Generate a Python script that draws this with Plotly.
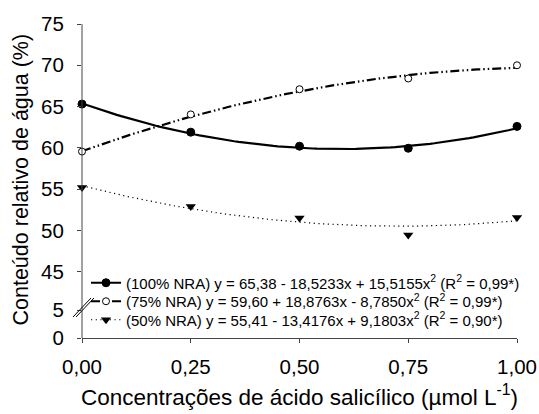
import numpy as np
import plotly.graph_objects as go

# Data
x_conc = [0.0, 0.25, 0.50, 0.75, 1.00]
y_100 = [65.3, 61.9, 60.2, 59.95, 62.6]
y_75 = [59.55, 64.05, 67.1, 68.4, 70.0]
y_50 = [55.2, 52.9, 51.5, 49.45, 51.55]

# Regression coefficients shown in the legend (a + b x + c x^2)
coef_100 = [65.38, -18.5233, 15.5155]
coef_75 = [59.60, 18.8763, -8.7850]
coef_50 = [55.41, -13.4176, 9.1803]

names = [
    "(100% NRA) y = 65,38 - 18,5233x + 15,5155x<sup>2</sup> (R<sup>2</sup> = 0,99*)",
    "(75% NRA) y = 59,60 + 18,8763x - 8,7850x<sup>2</sup> (R<sup>2</sup> = 0,99*)",
    "(50% NRA) y = 55,41 - 13,4176x + 9,1803x<sup>2</sup> (R<sup>2</sup> = 0,90*)",
]

x_ticks = [0, 0.25, 0.5, 0.75, 1.0]
x_ticktext = ["0,00", "0,25", "0,50", "0,75", "1,00"]
y_upper_ticks = [45, 50, 55, 60, 65, 70, 75]
y_lower_ticks = [0, 5]

FONT = "Liberation Sans, Arial, sans-serif"
BLACK = "#000000"

xf = np.linspace(0, 1, 101)

def fit(c):
    return c[0] + c[1] * xf + c[2] * xf ** 2

styles = [
    dict(line=dict(color=BLACK, width=2.2, dash="solid"),
         marker=dict(symbol="circle", size=8, color=BLACK, line=dict(color=BLACK, width=1))),
    dict(line=dict(color=BLACK, width=2.2, dash="9px,3px,1.5px,3px,1.5px,3px"),
         marker=dict(symbol="circle", size=7, color="white", line=dict(color=BLACK, width=1))),
    dict(line=dict(color=BLACK, width=1.2, dash="1.2px,3.5px"),
         marker=dict(symbol="triangle-down", size=9, color=BLACK, line=dict(color=BLACK, width=0))),
]
series = [(y_100, coef_100), (y_75, coef_75), (y_50, coef_50)]
legend_ids = ["legend", "legend2", "legend3"]

fig = go.Figure()
# empty trace so that the lower (0-5) axis segment is drawn
fig.add_trace(go.Scatter(x=[None], y=[None], mode="markers", showlegend=False,
                         xaxis="x", yaxis="y", hoverinfo="skip"))
for (ys, c), st, nm, lg in zip(series, styles, names, legend_ids):
    fig.add_trace(go.Scatter(x=xf, y=fit(c), mode="lines", line=st["line"],
                             showlegend=False, xaxis="x", yaxis="y2", hoverinfo="skip"))
    fig.add_trace(go.Scatter(x=x_conc, y=ys, mode="markers", marker=st["marker"],
                             showlegend=False, xaxis="x", yaxis="y2", cliponaxis=False))
    fig.add_trace(go.Scatter(x=[None], y=[None], mode="lines+markers", line=st["line"],
                             marker=st["marker"], name=nm, xaxis="x", yaxis="y2",
                             legend=lg))

# pixel geometry of plot area
L, R, T, B = 82, 517, 24, 338
W, H = R - L, B - T
def py(p):
    return (B - p) / H
def px(p):
    return (p - L) / W

lower_top = py(310)
upper_bot = py(271.7)

tickfont = dict(family=FONT, size=20.5, color=BLACK)

def legend_at(row_y):
    return dict(x=px(86), y=py(row_y), xanchor="left", yanchor="middle",
                bgcolor="rgba(0,0,0,0)", font=dict(family=FONT, size=15, color=BLACK),
                itemwidth=30)

fig.update_layout(
    width=539, height=414,
    margin=dict(l=L, r=539 - R, t=T, b=414 - B, autoexpand=False),
    paper_bgcolor="white", plot_bgcolor="white",
    font=dict(family=FONT, color=BLACK),
    xaxis=dict(range=[0, 1], tickvals=x_ticks, ticktext=x_ticktext, anchor="y",
               showline=True, linecolor="#444", linewidth=1, showgrid=False, zeroline=False,
               ticks="outside", ticklen=4, tickcolor="#444", tickfont=tickfont,
               automargin=False, ticklabelstandoff=6,
               title=dict(text="Concentrações de ácido salicílico (µmol L<sup>-1</sup>)",
                          font=dict(family=FONT, size=22.5, color=BLACK), standoff=12)),
    yaxis=dict(domain=[0, lower_top], range=[0, 5], tickvals=y_lower_ticks, anchor="x",
               showgrid=False, zeroline=False, showline=False, automargin=False,
               ticks="outside", ticklen=4, tickcolor="#444", tickfont=tickfont,
               ticklabelstandoff=9),
    yaxis2=dict(domain=[upper_bot, 1], range=[45, 75], tickvals=y_upper_ticks, anchor="x",
                showgrid=False, zeroline=False, showline=False, automargin=False,
                ticks="outside", ticklen=4, tickcolor="#444", tickfont=tickfont,
                ticklabelstandoff=9),
    legend=legend_at(283),
    legend2=legend_at(301.5),
    legend3=legend_at(320),
    annotations=[dict(text="Conteúdo relativo de água (%)", xref="paper", yref="paper",
                      x=px(20.5), y=py(180), textangle=-90, showarrow=False,
                      font=dict(family=FONT, size=21.5, color=BLACK),
                      xanchor="center", yanchor="middle")],
    shapes=[
        dict(type="line", xref="paper", yref="paper", x0=0, x1=0, y0=0, y1=1,
             line=dict(color="#444", width=1)),
        dict(type="line", xref="paper", yref="paper", x0=px(73), y0=py(317),
             x1=px(91), y1=py(298), line=dict(color=BLACK, width=1)),
        dict(type="line", xref="paper", yref="paper", x0=px(76), y0=py(317),
             x1=px(94), y1=py(298), line=dict(color=BLACK, width=1)),
    ],
)

fig.write_html("out.html", config={"displayModeBar": False},
               post_script="document.body.style.margin='0px';")
